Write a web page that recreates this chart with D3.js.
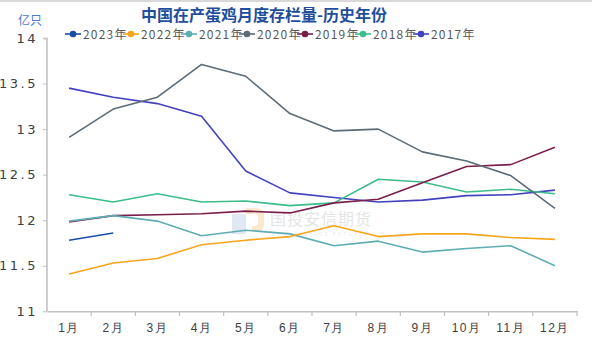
<!DOCTYPE html>
<html><head><meta charset="utf-8">
<script src="https://cdn.jsdelivr.net/npm/d3@7"></script>
<style>body{margin:0;background:#fff;} svg{display:block;font-family:"Noto Sans CJK SC","DejaVu Sans",sans-serif;}</style>
</head><body><svg id="c" width="592" height="341"></svg>
<script>
const months = ["1月","2月","3月","4月","5月","6月","7月","8月","9月","10月","11月","12月"];
const yTicks = [11, 11.5, 12, 12.5, 13, 13.5, 14];
const yTickLabels = ["11","11.5","12","12.5","13","13.5","14"];
const seriesNames = ["2023年","2022年","2021年","2020年","2019年","2018年","2017年"];
const seriesColors = ["#1a4ea6","#f8a51c","#5fadb3","#5b6b77","#7a1d4b","#3dbd8a","#4242c0"];
const v2023 = [11.78, 11.86];
const v2022 = [11.41, 11.53, 11.58, 11.73, 11.78, 11.82, 11.94, 11.82, 11.85, 11.85, 11.81, 11.79];
const v2021 = [11.99, 12.05, 11.99, 11.83, 11.89, 11.85, 11.72, 11.77, 11.65, 11.69, 11.72, 11.50];
const v2020 = [12.91, 13.22, 13.35, 13.71, 13.58, 13.17, 12.98, 13.00, 12.75, 12.65, 12.49, 12.13];
const v2019 = [11.98, 12.05, 12.06, 12.07, 12.10, 12.08, 12.19, 12.23, 12.41, 12.59, 12.61, 12.80];
const v2018 = [12.28, 12.20, 12.29, 12.20, 12.21, 12.16, 12.19, 12.45, 12.42, 12.31, 12.34, 12.29];
const v2017 = [13.45, 13.35, 13.28, 13.14, 12.54, 12.30, 12.25, 12.20, 12.22, 12.27, 12.28, 12.33];
const seriesValues = [v2023, v2022, v2021, v2020, v2019, v2018, v2017];

const svg = d3.select("#c");
svg.append("rect").attr("x",0).attr("y",0).attr("width",592).attr("height",2).attr("fill","#d9d9d9");

const x = d3.scaleBand().domain(months).range([47, 577]);
const y = d3.scaleLinear().domain([11, 14]).range([311.3, 38]);

// watermark
const wm = svg.append("g").attr("opacity",0.55);
wm.append("rect").attr("x",232).attr("y",214).attr("width",14).attr("height",20).attr("fill","#c9d6ea");
wm.append("path").attr("d","M246,208 h10 q8,0 8,8 v8 q0,8 -8,8 h-4 v-6 h2 q4,0 4,-4 v-4 q0,-4 -4,-4 h-8 z").attr("fill","#f6d7a8");
wm.append("text").attr("x",270).attr("y",225).attr("font-size",16).attr("fill","#d0d0d0").attr("letter-spacing",1).text("国投安信期货");
wm.append("text").attr("x",272).attr("y",236).attr("font-size",5).attr("fill","#dadada").attr("letter-spacing",2).text("SDIC ESSENCE FUTURES");

// axes
const axisColor = "#bfbfbf";
const yAxis = svg.append("g").attr("transform","translate(47,0)")
  .call(d3.axisLeft(y).tickValues(yTicks).tickSize(4).tickFormat((d,i)=>yTickLabels[i]));
yAxis.select(".domain").attr("stroke",axisColor).attr("stroke-width",1.5).attr("d","M-4,38.5H0V311.3");
yAxis.selectAll(".tick line").attr("stroke",axisColor);
yAxis.selectAll(".tick text").attr("x",-9).attr("font-size",13).attr("fill","#404040").attr("letter-spacing",2.5)
  .attr("font-family","DejaVu Sans, sans-serif");

const xAxis = svg.append("g").attr("transform","translate(0,311.3)")
  .call(d3.axisBottom(x).tickSize(0).tickPadding(12));
xAxis.select(".domain").attr("stroke",axisColor).attr("stroke-width",1.5);
xAxis.selectAll(".tick text").attr("font-size",12).attr("fill","#404040").attr("letter-spacing",1.5);
const bounds = months.map(m=>x(m)).concat([x.range()[1]]);
svg.append("g").selectAll("line").data(bounds.slice(1)).join("line")
  .attr("x1",d=>d).attr("x2",d=>d).attr("y1",311.3).attr("y2",316).attr("stroke",axisColor).attr("stroke-width",1.2);

// lines
const line = d3.line().x((d,i)=>x(months[i])+x.bandwidth()/2).y(d=>y(d));
const order = [6,5,4,3,2,1,0];
order.forEach(i=>{
  svg.append("path").datum(seriesValues[i]).attr("d",line).attr("fill","none")
    .attr("stroke",seriesColors[i]).attr("stroke-width",1.6).attr("stroke-linejoin","round");
});

// title
svg.append("text").attr("x",264).attr("y",21).attr("text-anchor","middle").attr("font-size",16).attr("font-weight","bold")
  .attr("fill","#1f4e9c").text("中国在产蛋鸡月度存栏量-历史年份");
svg.append("text").attr("x",18).attr("y",25).attr("font-size",12).attr("fill","#4a7ad4").text("亿只");

// legend
const lg = svg.append("g");
seriesNames.forEach((n,i)=>{
  const gx = 65 + i*58;
  const g = lg.append("g").attr("transform",`translate(${gx},34)`);
  g.append("line").attr("x1",0).attr("x2",16).attr("y1",0).attr("y2",0).attr("stroke",seriesColors[i]).attr("stroke-width",1.6);
  g.append("circle").attr("cx",8).attr("cy",0).attr("r",3.3).attr("fill",seriesColors[i]);
  g.append("text").attr("x",18).attr("y",4.5).attr("font-size",12).attr("fill","#595959").attr("letter-spacing",1.2).text(n);
});
</script></body></html>
